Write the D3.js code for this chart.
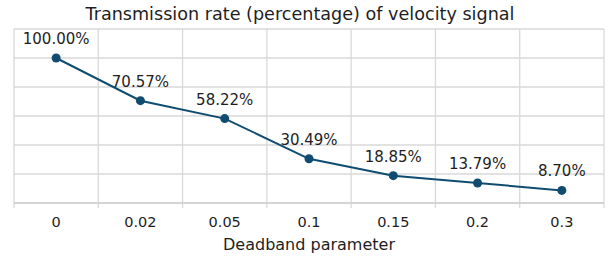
<!DOCTYPE html>
<html>
<head>
<meta charset="utf-8">
<script src="https://cdn.jsdelivr.net/npm/d3@7"></script>
<style>
  body { margin: 0; background: #fff; }
  svg { display: block; }
</style>
</head>
<body>
<div id="chart"></div>
<script>
// chart data
const categories = ["0", "0.02", "0.05", "0.1", "0.15", "0.2", "0.3"];
const rates = [100.00, 70.57, 58.22, 30.49, 18.85, 13.79, 8.70];
const yTicks = [0, 20, 40, 60, 80, 100, 120];

const svgWidth = 608, svgHeight = 257;
const margin = { top: 29, right: 4, bottom: 54, left: 14 };
const chartWidth = svgWidth - margin.left - margin.right;
const chartHeight = svgHeight - margin.top - margin.bottom;
const font = "DejaVu Sans, Verdana, sans-serif";

const svg = d3.select("#chart").append("svg")
    .attr("width", svgWidth)
    .attr("height", svgHeight)
    .attr("font-family", font);

const chart = svg.append("g")
    .attr("transform", `translate(${margin.left},${margin.top})`);

const x = d3.scaleBand().domain(categories).range([0, chartWidth]);
const y = d3.scaleLinear().domain([0, 120]).range([chartHeight, 0]);

// horizontal gridlines
chart.selectAll(".hgrid").data(yTicks).enter().append("line")
    .attr("class", "hgrid")
    .attr("x1", 0).attr("x2", chartWidth)
    .attr("y1", d => y(d)).attr("y2", d => y(d))
    .attr("stroke", "#d9d9d9")
    .attr("stroke-width", 1.3);

// vertical gridlines at band boundaries
const bounds = categories.map(c => x(c)).concat([chartWidth]);
chart.selectAll(".vgrid").data(bounds).enter().append("line")
    .attr("class", "vgrid")
    .attr("x1", d => d).attr("x2", d => d)
    .attr("y1", 0).attr("y2", chartHeight + 5)
    .attr("stroke", "#d9d9d9")
    .attr("stroke-width", 1.3);

// bottom axis line
chart.append("line")
    .attr("x1", 0).attr("x2", chartWidth)
    .attr("y1", chartHeight).attr("y2", chartHeight)
    .attr("stroke", "#cfcfcf")
    .attr("stroke-width", 1.5);

// category labels
chart.selectAll(".xlab").data(categories).enter().append("text")
    .attr("class", "xlab")
    .attr("x", d => x(d) + x.bandwidth() / 2)
    .attr("y", chartHeight + 24)
    .attr("text-anchor", "middle")
    .attr("font-size", "14.5px")
    .attr("fill", "#1e1e1e")
    .text(d => d);

// line
const line = d3.line()
    .x((d, i) => x(categories[i]) + x.bandwidth() / 2)
    .y(d => y(d));

chart.append("path")
    .datum(rates)
    .attr("d", line)
    .attr("fill", "none")
    .attr("stroke", "#0f4c70")
    .attr("stroke-width", 2);

chart.selectAll(".pt").data(rates).enter().append("circle")
    .attr("class", "pt")
    .attr("cx", (d, i) => x(categories[i]) + x.bandwidth() / 2)
    .attr("cy", d => y(d))
    .attr("r", 4.5)
    .attr("fill", "#0f4c70");

// value labels
chart.selectAll(".vlab").data(rates).enter().append("text")
    .attr("class", "vlab")
    .attr("x", (d, i) => x(categories[i]) + x.bandwidth() / 2)
    .attr("y", d => y(d) - 14)
    .attr("text-anchor", "middle")
    .attr("font-size", "15px")
    .attr("fill", "#1e1e1e")
    .text(d => d.toFixed(2) + "%");

// title
svg.append("text")
    .attr("x", 300)
    .attr("y", 20)
    .attr("text-anchor", "middle")
    .attr("font-size", "17.6px")
    .attr("fill", "#1e1e1e")
    .text("Transmission rate (percentage) of velocity signal");

// axis title
svg.append("text")
    .attr("x", margin.left + chartWidth / 2)
    .attr("y", 250)
    .attr("text-anchor", "middle")
    .attr("font-size", "16px")
    .attr("fill", "#1e1e1e")
    .text("Deadband parameter");
</script>
</body>
</html>
